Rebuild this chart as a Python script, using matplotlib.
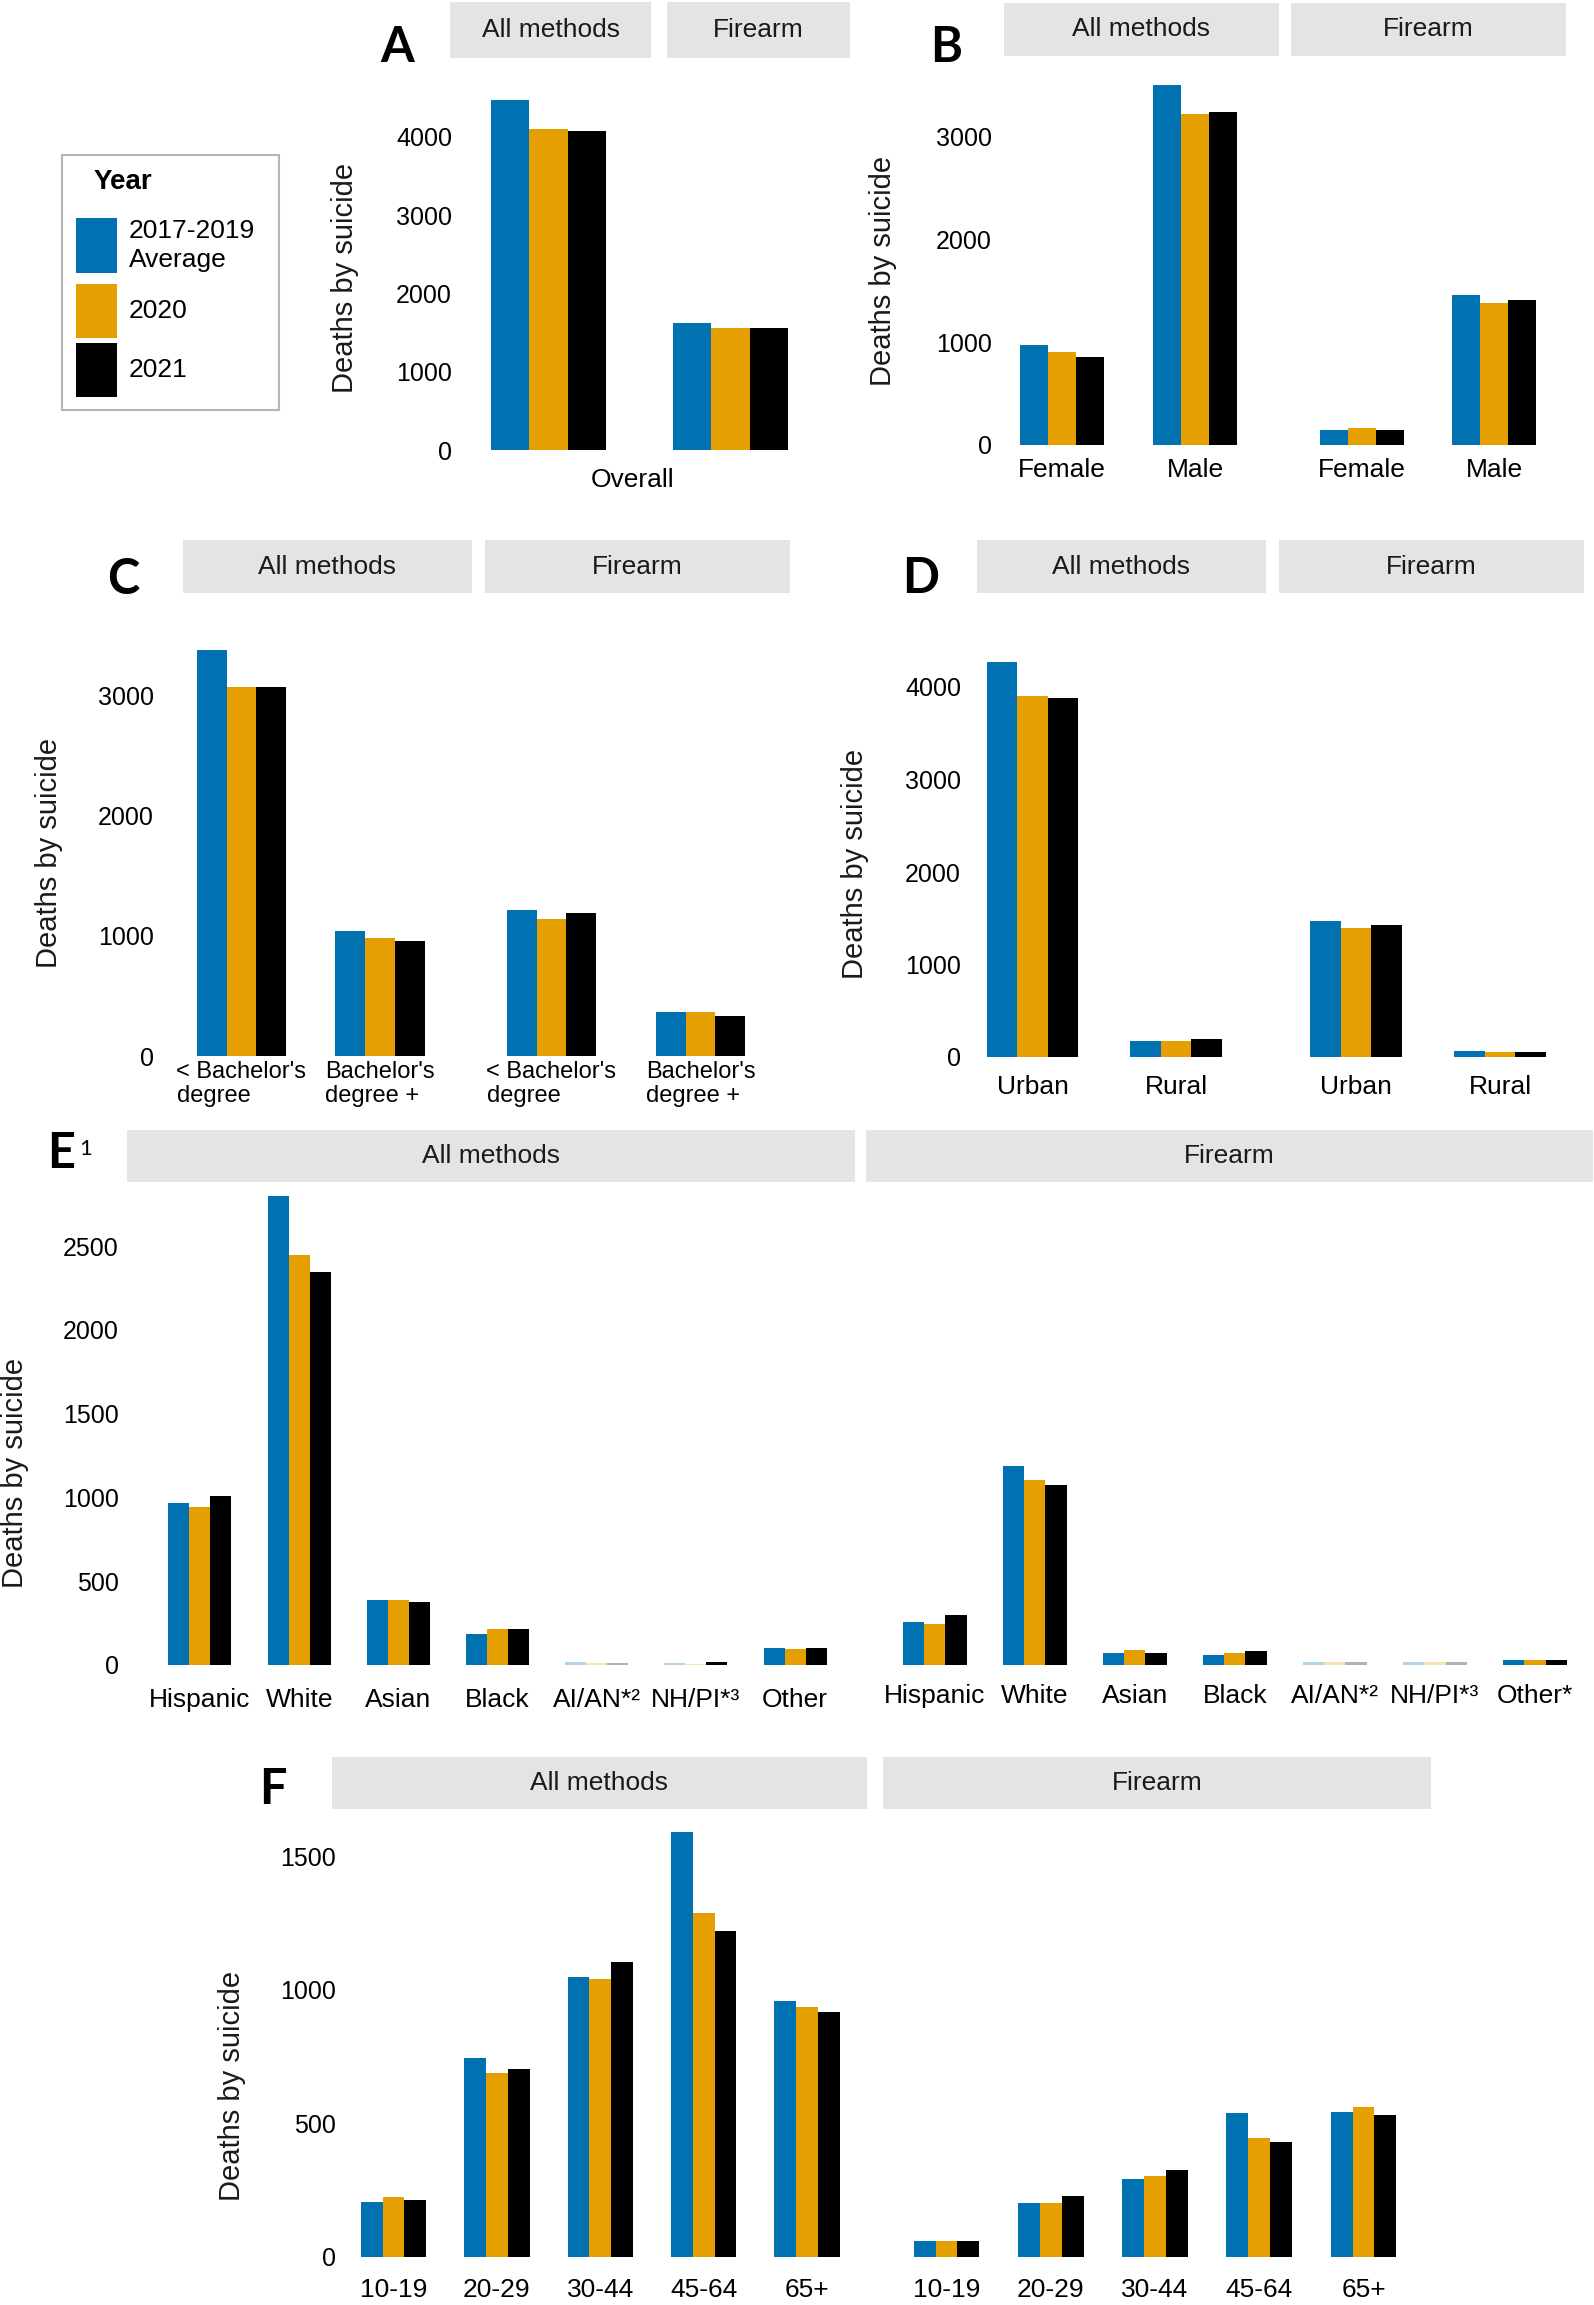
import numpy as np
import matplotlib
matplotlib.use('Agg')
import matplotlib.pyplot as plt
from matplotlib.patches import Rectangle
from matplotlib.colors import to_rgba

plt.rcParams['font.family'] = ['Liberation Sans', 'DejaVu Sans']

W, H = 1594, 2305
DPI = 100

# ---- data (rows = 2017-2019 average, 2020, 2021) ----
years = ['2017-2019\nAverage', '2020', '2021']
colors = ['#0072B2', '#E69F00', '#000000']

a_cats = ['Overall']
a_all = [[4470], [4095], [4072]]
a_fire = [[1617], [1553], [1555]]

b_cats = ['Female', 'Male']
b_all = [[977, 3510], [910, 3226], [855, 3242]]
b_fire = [[145, 1458], [168, 1381], [145, 1410]]

c_cats = ["< Bachelor's\ndegree", "Bachelor's\ndegree +"]
c_all = [[3377, 1042], [3068, 977], [3068, 958]]
c_fire = [[1211, 367], [1140, 367], [1185, 334]]

d_cats = ['Urban', 'Rural']
d_all = [[4274, 177], [3907, 177], [3882, 190]]
d_fire = [[1474, 63], [1398, 50], [1423, 50]]

e_cats_all = ['Hispanic', 'White', 'Asian', 'Black', 'AI/AN*²', 'NH/PI*³', 'Other']
e_cats_fire = ['Hispanic', 'White', 'Asian', 'Black', 'AI/AN*²', 'NH/PI*³', 'Other*']
e_all = [[965, 2796, 387, 185, 18, 12, 100],
         [942, 2447, 387, 213, 12, 8, 93],
         [1007, 2343, 377, 213, 12, 15, 100]]
e_fire = [[259, 1185, 69, 58, 15, 15, 30],
          [243, 1104, 88, 74, 15, 15, 30],
          [301, 1072, 69, 81, 15, 15, 28]]
# suppressed (faded) bars
e_all_faded = [[0, 0, 0, 0, 1, 1, 0], [0, 0, 0, 0, 1, 1, 0], [0, 0, 0, 0, 1, 0, 0]]
e_fire_faded = [[0, 0, 0, 0, 1, 1, 0], [0, 0, 0, 0, 1, 1, 0], [0, 0, 0, 0, 1, 1, 0]]

f_cats = ['10-19', '20-29', '30-44', '45-64', '65+']
f_all = [[206, 743, 1046, 1590, 958], [224, 688, 1039, 1288, 934], [212, 702, 1102, 1220, 918]]
f_fire = [[58, 202, 292, 538, 544], [58, 202, 302, 444, 560], [58, 228, 325, 430, 531]]

fig = plt.figure(figsize=(W / DPI, H / DPI), dpi=DPI)

TICK_FS = 18
XLAB_FS = 19
YLAB_FS = 21
STRIP_FS = 19


def px2pt(p):
    return p * 72 / DPI


def facet(l, r, zero, ppk, ymax, cats, data, g, yticks=None, ylab_right=None,
          xlab_center=None, faded=None, xfs=XLAB_FS):
    top = zero - ymax * ppk / 1000
    ax = fig.add_axes([l / W, 1 - zero / H, (r - l) / W, (zero - top) / H])
    n = len(cats)
    x = np.arange(n)
    w = g / 3
    for k in range(3):
        if faded is not None:
            cols = [to_rgba(colors[k], 0.3 if faded[k][i] else 1.0) for i in range(n)]
        else:
            cols = colors[k]
        ax.bar(x + (k - 1) * w, data[k], width=w, color=cols, linewidth=0)
    ax.set_xlim(-0.5, n - 0.5)
    ax.set_ylim(0, ymax)
    for s in ax.spines.values():
        s.set_visible(False)
    ax.tick_params(length=0)
    if yticks is not None:
        ax.set_yticks(yticks)
        ax.set_yticklabels([str(t) for t in yticks], fontsize=TICK_FS)
        ax.tick_params(axis='y', pad=px2pt(l - ylab_right))
    else:
        ax.set_yticks([])
    if xlab_center is not None:
        ax.set_xticks(x)
        ax.set_xticklabels(cats, fontsize=xfs, linespacing=1.1,
                           multialignment='left')
        em = xfs * DPI / 72
        ax.tick_params(axis='x', pad=px2pt(xlab_center - zero - 0.558 * em))
    else:
        ax.set_xticks([])
    ax.patch.set_alpha(0)
    return ax


def strip(l, r, t, b, label):
    fig.add_artist(Rectangle((l / W, 1 - b / H), (r - l) / W, (b - t) / H,
                             transform=fig.transFigure, facecolor='#e4e4e4',
                             edgecolor='none'))
    fig.text((l + r) / 2 / W, 1 - (t + b) / 2 / H, label, ha='center', va='center',
             fontsize=STRIP_FS, color='#1a1a1a')


def ylabel(x, y):
    fig.text(x / W, 1 - y / H, 'Deaths by suicide', rotation=90, ha='center',
             va='center', fontsize=YLAB_FS, color='#1a1a1a')


def letter(x, y, s):
    fig.text(x / W, 1 - y / H, s, ha='center', va='center', fontsize=35,
             fontweight='bold', family=['Lato', 'Liberation Sans'])


# ---- Panel A ----
facet(476.5, 620.5, 450, 78.3, 4600, a_cats, a_all, 0.8,
      yticks=[0, 1000, 2000, 3000, 4000], ylab_right=452)
facet(658.5, 802.5, 450, 78.3, 4600, a_cats, a_fire, 0.8)
fig.text(633 / W, 1 - 480 / H, 'Overall', ha='center', va='center', fontsize=XLAB_FS)
strip(450, 651, 2, 58, 'All methods')
strip(667, 850, 2, 58, 'Firearm')
ylabel(345, 278)
letter(397, 48, 'A')

# legend
fig.add_artist(Rectangle((62 / W, 1 - 410 / H), 217 / W, 255 / H, transform=fig.transFigure,
                         facecolor='white', edgecolor='#b5b5b5', linewidth=1.5))
fig.text(94 / W, 1 - 182 / H, 'Year', ha='left', va='center', fontsize=20, fontweight='bold')
leg_rows = [(218, 273), (284, 338), (343, 397)]
for (t, b), col, lab in zip(leg_rows, colors, years):
    fig.add_artist(Rectangle((76 / W, 1 - b / H), 41 / W, (b - t) / H,
                             transform=fig.transFigure, facecolor=col, edgecolor='none'))
    fig.text(129 / W, 1 - (t + b) / 2 / H, lab, ha='left', va='center', fontsize=19,
             linespacing=1.3)

# ---- Panel B ----
facet(995.5, 1261.5, 445, 102.7, 3700, b_cats, b_all, 0.63,
      yticks=[0, 1000, 2000, 3000], ylab_right=992, xlab_center=473)
facet(1296, 1560, 445, 102.7, 3700, b_cats, b_fire, 0.64, xlab_center=473)
strip(1004, 1279, 3, 56, 'All methods')
strip(1291, 1566, 3, 56, 'Firearm')
ylabel(883, 271)
letter(946, 47, 'B')

# ---- Panel C ----
facet(172.25, 449.25, 1056, 120.3, 3600, c_cats, c_all, 0.646,
      yticks=[0, 1000, 2000, 3000], ylab_right=154, xlab_center=1074, xfs=17)
facet(477, 775, 1056, 120.3, 3600, c_cats, c_fire, 0.60, xlab_center=1074, xfs=17)
strip(183, 472, 540, 593, 'All methods')
strip(485, 790, 540, 593, 'Firearm')
ylabel(49, 853)
letter(123, 580, 'C')

# ---- Panel D ----
facet(960.75, 1247.75, 1057, 92.5, 4600, d_cats, d_all, 0.64,
      yticks=[0, 1000, 2000, 3000, 4000], ylab_right=961, xlab_center=1090)
facet(1284, 1572, 1057, 92.5, 4600, d_cats, d_fire, 0.64, xlab_center=1090)
strip(977, 1266, 540, 593, 'All methods')
strip(1279, 1584, 540, 593, 'Firearm')
ylabel(855, 864)
letter(921, 578, 'D')

# ---- Panel E ----
facet(150.4, 844.6, 1665, 167.6, 2850, e_cats_all, e_all, 0.635,
      yticks=[0, 500, 1000, 1500, 2000, 2500], ylab_right=119, xlab_center=1703,
      faded=e_all_faded)
facet(884.5, 1585, 1665, 167.6, 2850, e_cats_fire, e_fire, 0.64, xlab_center=1699,
      faded=e_fire_faded)
strip(127, 855, 1130, 1182, 'All methods')
strip(866, 1593, 1130, 1182, 'Firearm')
ylabel(15, 1473)
letter(61, 1154, 'E')
fig.text(86 / W, 1 - 1149 / H, '1', ha='center', va='center', fontsize=16,
         family=['Lato', 'Liberation Sans'])

# ---- Panel F ----
facet(341.8, 858.7, 2257, 267.3, 1700, f_cats, f_all, 0.633,
      yticks=[0, 500, 1000, 1500], ylab_right=336, xlab_center=2293)
facet(894.4, 1415.6, 2257, 267.3, 1700, f_cats, f_fire, 0.63, xlab_center=2293)
strip(332, 867, 1757, 1809, 'All methods')
strip(883, 1431, 1757, 1809, 'Firearm')
ylabel(232, 2086)
letter(273, 1789, 'F')

fig.savefig('out.png', dpi=DPI, facecolor='white')
